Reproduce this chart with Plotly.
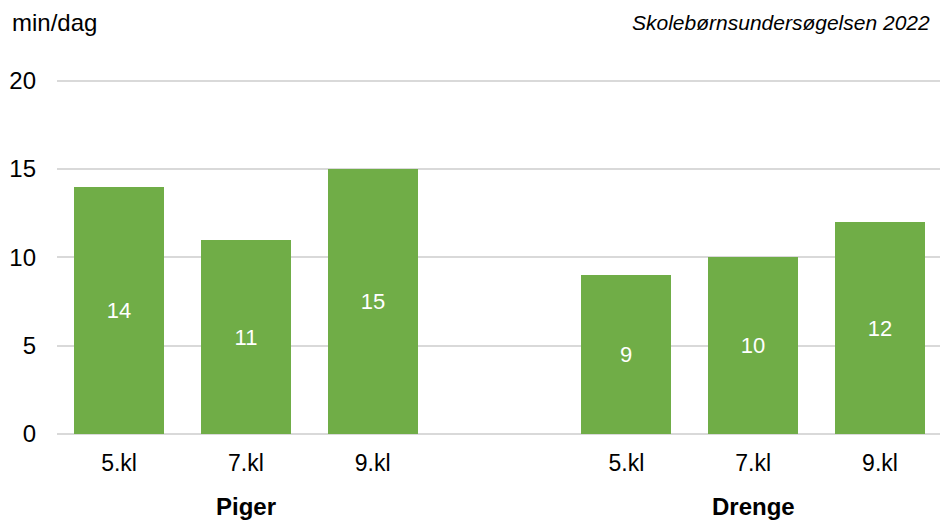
import plotly.graph_objects as go

# Minutes per day by school grade, girls and boys
grades = ["5.kl", "7.kl", "9.kl"]
groups = ["Piger", "Drenge"]
piger = [14, 11, 15]
drenge = [9, 10, 12]

unit_label = "min/dag"
source_label = "Skolebørnsundersøgelsen 2022"

BAR_COLOR = "#70AD47"
GRID_COLOR = "#d9d9d9"
FONT = "Liberation Sans, Arial, sans-serif"

PLOT_W = 883
PLOT_H = 357
Y_MAX = 20.2  # a little headroom so the 20 gridline is drawn

# Slots 0-2 girls, slot 3 empty spacer, slots 4-6 boys
x_pos = [0, 1, 2, 4, 5, 6]
values = piger + drenge
tick_text = grades + grades

fig = go.Figure(
    go.Bar(
        x=x_pos,
        y=values,
        width=0.71,
        marker=dict(color=BAR_COLOR, line=dict(width=0)),
        text=[str(v) for v in values],
        textposition="inside",
        insidetextanchor="middle",
        textfont=dict(color="white", size=22, family=FONT),
        textangle=0,
        hoverinfo="skip",
    )
)

fig.update_layout(
    width=940,
    height=521,
    margin=dict(l=57, r=0, t=77, b=87),
    paper_bgcolor="white",
    plot_bgcolor="white",
    showlegend=False,
    font=dict(family=FONT, size=24, color="#000000"),
    xaxis=dict(
        range=[-0.489, 6.473],
        tickmode="array",
        tickvals=x_pos,
        ticktext=tick_text,
        ticks="",
        showgrid=False,
        zeroline=False,
        showline=False,
        tickfont=dict(size=23),
        ticklabelstandoff=13,
        fixedrange=True,
    ),
    yaxis=dict(
        range=[0, Y_MAX],
        tickvals=[0, 5, 10, 15, 20],
        showgrid=True,
        gridcolor=GRID_COLOR,
        gridwidth=2,
        zeroline=True,
        zerolinecolor=GRID_COLOR,
        zerolinewidth=2,
        ticks="",
        tickfont=dict(size=24),
        ticklabelstandoff=20,
        fixedrange=True,
    ),
    bargap=0,
)

# Group labels under each block of grades
for name, center in zip(groups, [1, 5]):
    fig.add_annotation(
        x=center, xref="x", y=-72 / PLOT_H, yref="paper",
        text=f"<b>{name}</b>", showarrow=False,
        font=dict(size=24, family=FONT), yanchor="middle",
    )

fig.add_annotation(
    x=(10 - 57) / PLOT_W, xref="paper", y=1 + 55 / PLOT_H, yref="paper",
    text=unit_label, showarrow=False, xanchor="left", yanchor="middle",
    font=dict(size=24, family=FONT),
)
fig.add_annotation(
    x=1 - 8 / PLOT_W, xref="paper", y=1 + 55 / PLOT_H, yref="paper",
    text=f"<i>{source_label}</i>", showarrow=False, xanchor="right", yanchor="middle",
    font=dict(size=21, family=FONT),
)

fig.write_html("out.html")
